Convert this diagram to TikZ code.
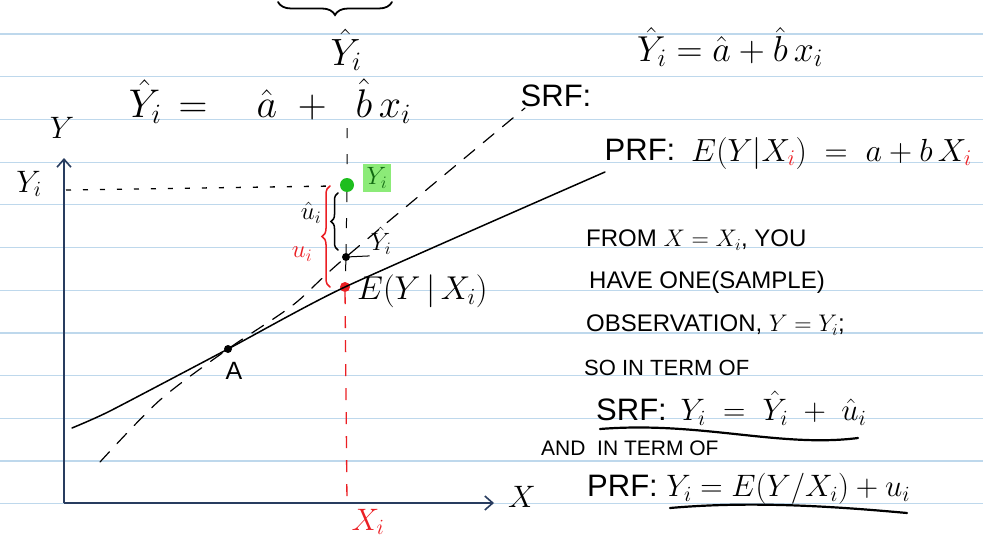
\RequirePackage{fix-cm}
\documentclass[tikz,border=0pt]{standalone}
\usepackage{amsmath}
\usepackage{fontspec}
\setmainfont{Liberation Sans}
\usepackage{tikz}
\usetikzlibrary{arrows.meta}
\usetikzlibrary{decorations.pathreplacing}
\usepackage{xcolor}
\definecolor{ruleblue}{RGB}{190,216,236}
\definecolor{axisblue}{RGB}{40,60,95}
\definecolor{inkred}{RGB}{235,30,35}
\definecolor{inkgreen}{RGB}{30,190,30}
\definecolor{markgreen}{RGB}{140,235,120}
\newcommand{\bigfont}{\fontsize{40}{44}\selectfont}
\newcommand{\topfont}{\fontsize{36}{40}\selectfont}
\newcommand{\midfont}{\fontsize{31}{34}\selectfont}
\newcommand{\smallfont}{\fontsize{25}{28}\selectfont}
\newcommand{\notefont}{\fontsize{24}{26}\selectfont}

\begin{document}
\begin{tikzpicture}[x=1pt,y=-1pt]
\tikzstyle{every node}=[inner sep=1pt]
\tikzstyle{note}=[anchor=west,font=\notefont]
\tikzstyle{dot}=[circle,fill=black,inner sep=0pt,minimum size=8pt]
\tikzstyle{ink}=[line width=1.5pt,line cap=round]
\useasboundingbox (0,0) rectangle (983,543);
\foreach \k in {0,...,11}
  \draw[ruleblue,line width=1.2pt] (0,34+42.7*\k) -- (983,34+42.7*\k);

\coordinate (O) at (64,503);
\coordinate (ytop) at (64,158);
\coordinate (xend) at (494,503);
\draw[axisblue,line width=1.6pt,-{Straight Barb[length=8pt,width=14pt]}] (O) -- (ytop);
\draw[axisblue,line width=1.6pt,-{Straight Barb[length=8pt,width=14pt]}] (O) -- (xend);
\node[font=\midfont] (ylab) at (62,128) {$Y$};
\node[font=\midfont] (xlab) at (522,497) {$X$};
\node[font=\midfont] (yilab) at (29,184) {$Y_i$};
\node[font=\midfont,text=inkred] (xilab) at (368,522) {$X_i$};

\node[dot] (dotA) at (228,349) {};
\node[dot,fill=inkred,minimum size=10pt] (dotE) at (345,287) {};
\node[dot] (dotYhat) at (346,257) {};
\node[dot,fill=inkgreen,minimum size=14pt] (dotY) at (347,185) {};
\node[font=\smallfont] (alab) at (234,371) {A};

\coordinate (prfL) at (72,428);
\coordinate (prfR) at (605,172);
\draw[ink] plot[smooth,tension=0.35] coordinates {(prfL) (110,411) (dotA) (dotE) (prfR)};
\coordinate (srfL) at (100,462);
\coordinate (srfR) at (525,108);
\draw[ink,line width=1.2pt,dash pattern=on 14pt off 11pt] plot[smooth] coordinates {(srfL) (160,400) (dotA) (293,305) (dotYhat) (srfR)};

\coordinate (vtop) at (347,128);
\coordinate (xi) at (347,503);
\draw[line width=1pt,dash pattern=on 10pt off 16pt] (vtop) -- (dotY) -- (dotYhat) -- (dotE);
\draw[inkred,line width=1.3pt,dash pattern=on 12pt off 12pt] (dotE) -- (xi);
\coordinate (yiL) at (66,190);
\coordinate (yiR) at (333,186);
\draw[line width=1.3pt,dash pattern=on 5pt off 12pt] (yiL) -- (yiR);

\draw[ink,decorate,decoration={brace,amplitude=7pt}] (338,250) -- (338,193);
\node[font=\smallfont] (uhat) at (311,213) {$\hat{u}_i$};
\draw[ink,inkred,decorate,decoration={brace,amplitude=8pt}] (330,287) -- (330,186);
\node[font=\smallfont,text=inkred] (ured) at (302,254) {$u_i$};

\node[font=\smallfont] (yhatlab) at (381,241) {$\hat{Y}_i$};
\draw[line width=1pt] (dotYhat) -- (yhatlab.south west);
\node[fill=markgreen,text=inkgreen!55!black,font=\smallfont,inner sep=4pt] (ygreen) at (377,178) {$Y_i$};
\node[anchor=west,font=\fontsize{33}{36}\selectfont] (elab) at (356,291) {$E(Y\,|\,X_i)$};

\draw[ink,line width=1.8pt,decorate,decoration={brace,amplitude=13pt}] (392,2) -- (278,2);
\node[font=\fontsize{38}{42}\selectfont] (yhattop) at (346,50) {$\hat{Y}_i$};
\node[font=\bigfont] (srfeq) at (270,101) {$\hat{Y}_i\hspace{6pt}=\hspace{38pt}\hat{a}\hspace{12pt}+\hspace{20pt}\hat{b}\,x_i$};

\node[font=\midfont] (srflab) at (556,96) {SRF:};
\node[font=\topfont] (srftop) at (730,47) {$\hat{Y}_i = \hat{a} + \hat{b}\,x_i$};
\node[font=\midfont] (prflab) at (640,150) {PRF:};
\node[font=\fontsize{32}{35}\selectfont,anchor=west] (prftop) at (690,153) {$E(Y|X_{\color{inkred}i})\;=\;a + b\,X_{\color{inkred}i}$};

\node[note] (n1) at (585,240) {FROM $X = X_i$, YOU};
\node[note] (n2) at (588,282) {HAVE ONE(SAMPLE)};
\node[note] (n3) at (585,325) {OBSERVATION, $Y = Y_i$;};
\node[note,font=\fontsize{22}{24}\selectfont] (n4) at (583,368) {SO IN TERM OF};
\node[note,font=\midfont] (n5) at (595,408) {SRF:\, $Y_i \;=\; \hat{Y}_i \;+\; \hat{u}_i$};
\node[note,font=\fontsize{21}{23}\selectfont] (n6) at (540,448) {AND\ \ IN TERM OF};
\node[note,font=\midfont] (n7) at (586,489) {PRF: $Y_i = E(Y/X_i) + u_i$};
\draw[ink,line width=2.2pt] (600,429) .. controls (700,421) and (780,448) .. (858,438);
\draw[ink,line width=2.2pt] (670,508) .. controls (750,501) and (830,506) .. (907,513);
\end{tikzpicture}
\end{document}
